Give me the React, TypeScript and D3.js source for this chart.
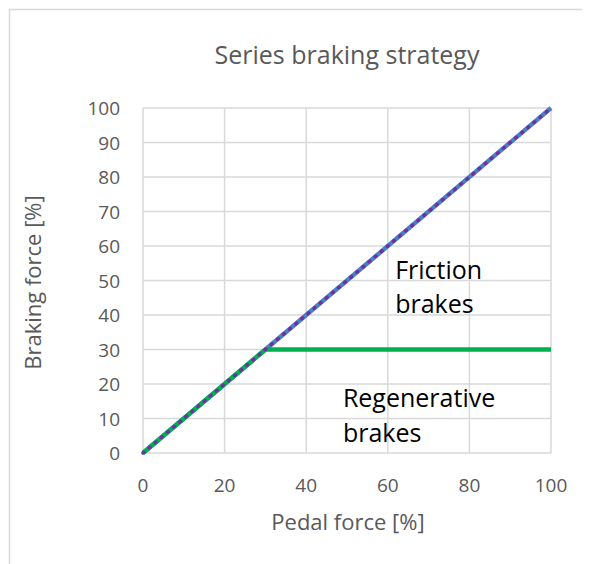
import { useEffect, useRef } from "react";
import * as d3 from "d3";

// pedal force [%] and the three braking curves [%]
const pedal = [0, 30, 100];
const frictionLine = [0, 30, 100];
const regenLine = [0, 30, 30];
const totalLine = [0, 30, 100];
const xTicks = [0, 20, 40, 60, 80, 100];
const yTicks = [0, 10, 20, 30, 40, 50, 60, 70, 80, 90, 100];

export default function App() {
  const ref = useRef<SVGSVGElement>(null);

  useEffect(() => {
    const svg = d3.select(ref.current);
    svg.selectAll("*").remove();

    const font = "Open Sans, Liberation Sans, sans-serif";
    // plot area inside svg (svg sits at 8,8 on the page)
    const left = 135, right = 543, top = 100, bottom = 445;

    const x = d3.scaleLinear().domain([0, 100]).range([left, right]);
    const y = d3.scaleLinear().domain([0, 100]).range([bottom, top]);

    // outer chart frame
    svg.append("rect")
      .attr("x", 1.5).attr("y", 1.5)
      .attr("width", 620).attr("height", 620)
      .attr("fill", "#fff")
      .attr("stroke", "#d9d9d9")
      .attr("stroke-width", 1.5);

    // gridlines
    const grid = svg.append("g").attr("stroke", "#d9d9d9").attr("stroke-width", 1.5);
    grid.selectAll("line.h").data(yTicks).enter().append("line")
      .attr("x1", left).attr("x2", right)
      .attr("y1", (d) => y(d)).attr("y2", (d) => y(d));
    grid.selectAll("line.v").data(xTicks).enter().append("line")
      .attr("y1", top).attr("y2", bottom)
      .attr("x1", (d) => x(d)).attr("x2", (d) => x(d));

    // tick labels
    svg.append("g").selectAll("text").data(yTicks).enter().append("text")
      .attr("x", left - 23)
      .attr("y", (d) => y(d) + 7)
      .attr("text-anchor", "end")
      .style("font-family", font).style("font-size", "19px").style("fill", "#595959")
      .text((d) => d);
    svg.append("g").selectAll("text").data(xTicks).enter().append("text")
      .attr("x", (d) => x(d))
      .attr("y", bottom + 39)
      .attr("text-anchor", "middle")
      .style("font-family", font).style("font-size", "19px").style("fill", "#595959")
      .text((d) => d);

    // axis titles
    svg.append("text")
      .attr("x", (left + right) / 2 + 1).attr("y", 522)
      .attr("text-anchor", "middle")
      .style("font-family", font).style("font-size", "22px").style("fill", "#595959")
      .text("Pedal force [%]");
    svg.append("text")
      .attr("transform", `translate(33, ${(top + bottom) / 2 + 2}) rotate(-90)`)
      .attr("text-anchor", "middle")
      .style("font-family", font).style("font-size", "22px").style("fill", "#595959")
      .text("Braking force [%]");

    // title
    svg.append("text")
      .attr("x", 339).attr("y", 56)
      .attr("text-anchor", "middle")
      .style("font-family", font).style("font-size", "25px").style("fill", "#595959")
      .text("Series braking strategy");

    const line = (vals: number[]) =>
      d3.line<number>().x((_, i) => x(pedal[i])).y((d) => y(d))(vals);

    svg.append("path").attr("d", line(frictionLine))
      .attr("fill", "none").attr("stroke", "#4a7fc4").attr("stroke-width", 4.5);
    svg.append("path").attr("d", line(regenLine))
      .attr("fill", "none").attr("stroke", "#00b050").attr("stroke-width", 4.5);
    svg.append("path").attr("d", line(totalLine))
      .attr("fill", "none").attr("stroke", "#7030a0").attr("stroke-width", 3.5)
      .attr("stroke-dasharray", "1,7").attr("stroke-linecap", "round");

    // region labels
    const lab = (tx: string, px: number, py: number) =>
      svg.append("text").attr("x", x(px)).attr("y", y(py))
        .style("font-family", font).style("font-size", "25px").style("fill", "#000")
        .text(tx);
    lab("Friction", 61.8, 50.4);
    lab("brakes", 61.8, 40.6);
    lab("Regenerative", 49, 13.3);
    lab("brakes", 49, 3.2);
  }, []);

  return <svg ref={ref} width={600} height={600} style={{ display: "block" }} />;
}
